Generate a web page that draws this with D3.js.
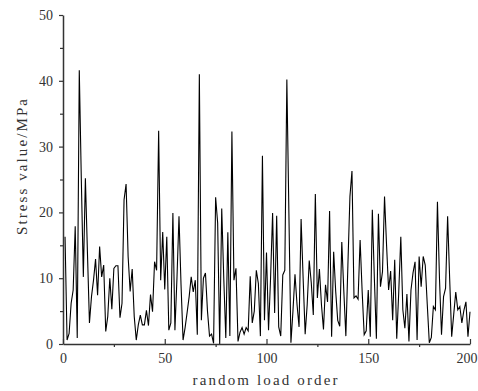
<!DOCTYPE html>
<html>
<head>
<meta charset="utf-8">
<script src="https://cdn.jsdelivr.net/npm/d3@7"></script>
<style>
  html, body { margin: 0; padding: 0; background: #fff; }
  svg { display: block; }
</style>
</head>
<body>
<svg id="chart" width="478" height="391"></svg>
<script>
// ---- data ----
const loadOrder = d3.range(1, 201);
const stressValues = [
  16.3, 0.6, 1.6, 6.2, 8.2, 17.9, 0.9, 41.6, 25, 10.2,
  25.2, 14, 3.2, 7.2, 9.7, 12.9, 7.4, 14.8, 10.2, 12,
  1.9, 4.2, 10, 5.3, 11.5, 11.9, 11.9, 4, 6.2, 21.9,
  24.3, 13.3, 8, 11.4, 4.2, 0.6, 2.9, 4.4, 2.9, 2.9,
  5.1, 2.8, 7.5, 4.9, 12.5, 11.2, 32.4, 9.7, 17, 8.3,
  16.3, 2.1, 3.2, 19.9, 2.1, 10, 19.4, 9, 0.6, 2.5,
  4.8, 7.2, 10.2, 7.9, 9.7, 1.4, 41, 3.6, 10, 10.8,
  5, 1.2, 1.5, 0.1, 22.3, 18.4, 0, 20.6, 10, 0.9,
  17, 1.2, 32.3, 9.7, 11.5, 0.4, 1.8, 2.5, 1.5, 2.5,
  2, 10.3, 3.2, 5, 11.2, 9.2, 1.2, 28.6, 3.6, 13.9,
  2.1, 10, 19.9, 4.7, 19.5, 2.6, 1.2, 10.5, 11.2, 40.2,
  20, 0.2, 5, 10.6, 6, 2.6, 19, 10, 1.5, 6,
  12.7, 9.3, 4.4, 22.8, 7, 11.4, 6, 2.2, 9, 6.4,
  20.2, 1.1, 14, 8, 3.6, 2.7, 15.5, 8, 1.2, 12,
  22.4, 26.3, 7, 7.3, 6.8, 15.8, 8, 1.4, 2, 8.2,
  1.1, 20.4, 10, 0.8, 19.8, 8.7, 11, 22.4, 15, 8.2,
  11.1, 3.6, 12.8, 0.8, 8, 16.3, 5.2, 2.4, 7.6, 0.4,
  8.2, 10.8, 12.5, 0.6, 13.3, 8.7, 13.3, 12, 6, 0.2,
  1, 5.7, 5.2, 21.6, 10, 1.4, 7.2, 8.5, 19.4, 10,
  1.1, 4.5, 7.9, 5.2, 5.7, 3.2, 5.1, 6.4, 1.1, 4.9
];
const xTickValues = [0, 50, 100, 150, 200];
const xMinorTicks = [25, 75, 125, 175];
const yTickValues = [0, 10, 20, 30, 40, 50];
const yMinorTicks = [5, 15, 25, 35, 45];
const xTitle = "random load order";
const yTitle = "Stress value/MPa";

// ---- layout ----
const svg = d3.select("#chart");
const mLeft = 63, mRight = 470, mTop = 15, mBottom = 344;
const axisColor = "#333";
const tickFont = "'Liberation Serif', 'DejaVu Serif', serif";
const titleFont = "'Liberation Serif', 'DejaVu Serif', serif";

const x = d3.scaleLinear().domain([0, 200]).range([mLeft, mRight]);
const y = d3.scaleLinear().domain([0, 50]).range([mBottom, mTop]);

// data line
const line = d3.line().x((d, i) => x(loadOrder[i])).y(d => y(d));
svg.append("path")
  .datum(stressValues)
  .attr("d", line)
  .attr("fill", "none")
  .attr("stroke", "#000")
  .attr("stroke-width", 1.1);

function styleAxis(g) {
  g.selectAll("path.domain").attr("stroke", axisColor).attr("stroke-width", 1.5);
  g.selectAll(".tick line").attr("stroke", axisColor).attr("stroke-width", 1.2);
  g.selectAll("text").attr("font-family", tickFont).attr("font-size", 14).attr("fill", axisColor);
}

// x minor ticks (outward)
const gxm = svg.append("g").attr("transform", `translate(0,${mBottom})`)
  .call(d3.axisBottom(x).tickValues(xMinorTicks).tickSize(3).tickFormat(""));
gxm.select(".domain").remove();
styleAxis(gxm);
// x major ticks (inward)
const gx = svg.append("g").attr("transform", `translate(0,${mBottom})`)
  .call(d3.axisBottom(x).tickValues(xTickValues).tickSizeInner(-5).tickSizeOuter(0).tickPadding(9).tickFormat(d3.format("d")));
styleAxis(gx);
// keep the last label inside the frame
gx.selectAll(".tick text").filter(d => d === 200).attr("text-anchor", "end").attr("dx", 477 - x(200));

// y minor ticks
const gym = svg.append("g").attr("transform", `translate(${mLeft},0)`)
  .call(d3.axisLeft(y).tickValues(yMinorTicks).tickSize(3).tickFormat(""));
gym.select(".domain").remove();
styleAxis(gym);
// y major ticks
const gy = svg.append("g").attr("transform", `translate(${mLeft},0)`)
  .call(d3.axisLeft(y).tickValues(yTickValues).tickSizeInner(4).tickSizeOuter(0).tickPadding(6).tickFormat(d3.format("d")));
styleAxis(gy);

// titles (spaced to mimic the monospaced serif of the original)
svg.append("text")
  .attr("x", 265)
  .attr("y", 385)
  .attr("text-anchor", "middle")
  .attr("font-family", titleFont)
  .attr("font-size", 15)
  .attr("fill", axisColor)
  .attr("textLength", 145)
  .attr("lengthAdjust", "spacing")
  .text(xTitle);

svg.append("text")
  .attr("transform", `translate(27,167) rotate(-90)`)
  .attr("text-anchor", "middle")
  .attr("font-family", titleFont)
  .attr("font-size", 15)
  .attr("fill", axisColor)
  .attr("textLength", 136)
  .attr("lengthAdjust", "spacing")
  .text(yTitle);
</script>
</body>
</html>
